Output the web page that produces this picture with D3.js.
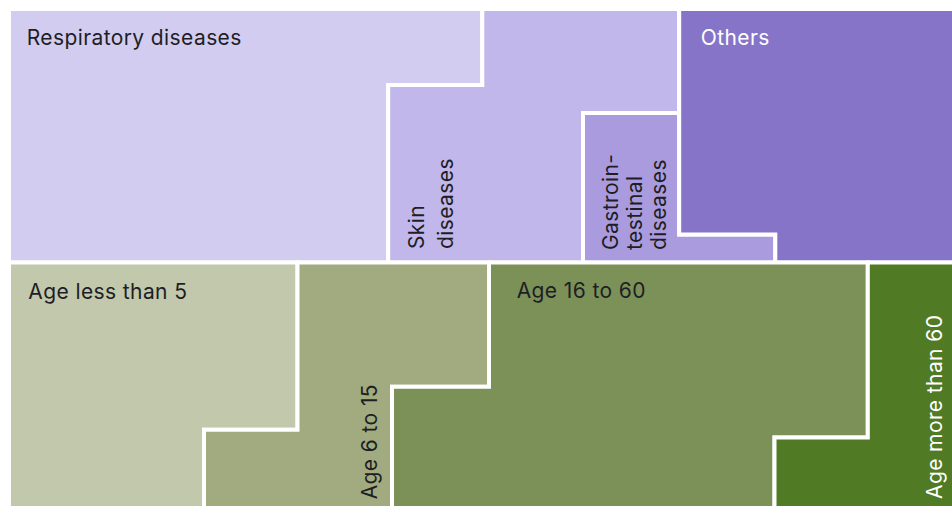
<!DOCTYPE html>
<html>
<head>
<meta charset="utf-8">
<script src="https://cdn.jsdelivr.net/npm/d3@7"></script>
<style>
  html, body { margin: 0; padding: 0; background: #ffffff; overflow: hidden; }
  svg { display: block; }
  text { font-family: "Inter", "Noto Sans", sans-serif; }
</style>
</head>
<body>
<div id="chart"></div>
<script>
// ---------- data ----------
const bands = ["Diseases", "Age groups"];

const diseaseCategories = ["Respiratory diseases", "Skin diseases", "Gastrointestinal diseases", "Others"];
const diseaseValues = [43.0, 21.1, 7.0, 28.9];           // percent
const diseaseLabelLines = [["Respiratory diseases"], ["Skin", "diseases"], ["Gastroin-", "testinal", "diseases"], ["Others"]];

const ageCategories = ["Age less than 5", "Age 6 to 15", "Age 16 to 60", "Age more than 60"];
const ageValues = [26.6, 18.3, 42.0, 13.1];              // percent
const ageLabelLines = [["Age less than 5"], ["Age 6 to 15"], ["Age 16 to 60"], ["Age more than 60"]];

// ---------- styles ----------
const diseaseColors = ["#d3ccf1", "#c1b7ea", "#aa9bdf", "#8674c8"];
const ageColors = ["#c1c8ab", "#a1ab7f", "#7b9158", "#507a24"];
const diseaseTextColors = ["#1e1e24", "#1e1e24", "#1e1e24", "#ffffff"];
const ageTextColors = ["#1e1e24", "#1e1e24", "#1e1e24", "#ffffff"];

// ---------- layout ----------
const W = 952, H = 506;
const nCols = 10;             // each column = 10 percent
const pctPerCol = 100 / nCols;
const fontSize = 21;
const letterSpacing = 0.4;

// pixel edges of the 10 columns in each band
const diseaseColEdges = [9, 103.8, 198.6, 293.4, 388.2, 482.3, 583, 679.2, 775.3, 871, 967];
const ageColEdges = [9, 106.5, 204, 297.5, 392, 489, 584.2, 679.3, 774.5, 867.8, 964];

// label placement: rotated?, column, offsets relative to column left / band edge
const diseaseLabelLayout = [
  { rot: false, col: 0, dx: 17.7, dy: 36 },
  { rot: true,  col: 4, dx: 35.3, dy: -13.5, gap: 29.4 },
  { rot: true,  col: 6, dx: 35.3, dy: -12.5, gap: 24 },
  { rot: false, col: 7, dx: 21.5, dy: 36 }
];
const ageLabelLayout = [
  { rot: false, col: 0, dx: 19.3, dy: 36.8 },
  { rot: true,  col: 3, dx: 79.2, dy: -16.7, gap: 24 },
  { rot: false, col: 5, dx: 27.7, dy: 35.8 },
  { rot: true,  col: 9, dx: 74, dy: -17, gap: 24 }
];

const svg = d3.select("#chart").append("svg")
  .attr("width", W).attr("height", H);

const bandY = d3.scaleBand().domain(bands).range([9, 516]).paddingInner(0);

const bandData = [
  { band: bands[0], cats: diseaseCategories, vals: diseaseValues, colors: diseaseColors,
    textColors: diseaseTextColors, lines: diseaseLabelLines, layout: diseaseLabelLayout, edges: diseaseColEdges },
  { band: bands[1], cats: ageCategories, vals: ageValues, colors: ageColors,
    textColors: ageTextColors, lines: ageLabelLines, layout: ageLabelLayout, edges: ageColEdges }
];

// serpentine fill: even columns fill top-down, odd columns bottom-up
function regionPolygon(start, end, x, y) {
  const pieces = [];
  for (let c = Math.floor(start); c < Math.ceil(end - 1e-9); c++) {
    const a = Math.max(start, c) - c;
    const b = Math.min(end, c + 1) - c;
    let y1, y2;
    if (c % 2 === 0) { y1 = y(a); y2 = y(b); }
    else { y1 = y(1 - b); y2 = y(1 - a); }
    pieces.push({ xl: x(c), xr: x(c + 1), y1, y2 });
  }
  const pts = [];
  pieces.forEach(p => { pts.push([p.xl, p.y1]); pts.push([p.xr, p.y1]); });
  for (let i = pieces.length - 1; i >= 0; i--) {
    const p = pieces[i];
    pts.push([p.xr, p.y2]); pts.push([p.xl, p.y2]);
  }
  return pts;
}

const line = d3.line().curve(d3.curveLinearClosed);

bandData.forEach(bd => {
  const top = bandY(bd.band);
  const bottom = top + bandY.bandwidth();
  const x = d3.scaleLinear().domain(d3.range(nCols + 1)).range(bd.edges);
  const y = d3.scaleLinear().domain([0, 1]).range([top, bottom]);
  const g = svg.append("g");
  let cum = 0;
  const regions = bd.vals.map((v, i) => {
    const s = cum / pctPerCol;
    cum += v;
    const e = cum / pctPerCol;
    return { i, s, e };
  });
  g.selectAll("path").data(regions).join("path")
    .attr("d", r => line(regionPolygon(r.s, r.e, x, y)))
    .attr("fill", r => bd.colors[r.i])
    .attr("stroke", "#ffffff")
    .attr("stroke-width", 4)
    .attr("stroke-linejoin", "miter");

  regions.forEach(r => {
    const L = bd.layout[r.i];
    const lines = bd.lines[r.i];
    const colLeft = x(L.col);
    if (!L.rot) {
      g.append("text")
        .attr("x", colLeft + L.dx)
        .attr("y", top + L.dy)
        .attr("font-size", fontSize)
        .attr("letter-spacing", letterSpacing)
        .attr("fill", bd.textColors[r.i])
        .text(lines[0]);
    } else {
      lines.forEach((t, k) => {
        const bx = colLeft + L.dx + k * L.gap;
        const by = bottom + L.dy;
        g.append("text")
          .attr("transform", `translate(${bx},${by}) rotate(-90)`)
          .attr("font-size", fontSize)
          .attr("letter-spacing", letterSpacing)
          .attr("fill", bd.textColors[r.i])
          .text(t);
      });
    }
  });
});
</script>
</body>
</html>
